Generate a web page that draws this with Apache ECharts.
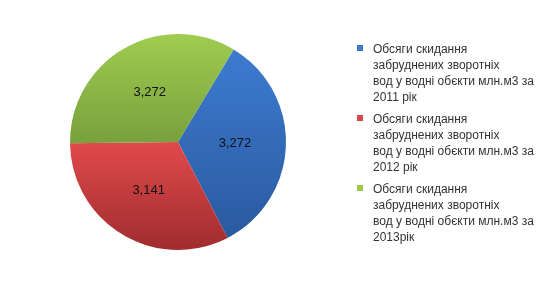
<!DOCTYPE html>
<html><head><meta charset="utf-8">
<script src="https://cdn.jsdelivr.net/npm/echarts@6/dist/echarts.min.js"></script>
<style>html,body{margin:0;padding:0;background:#fff}#c{width:552px;height:290px}</style>
</head><body><div id="c"></div>
<script>
var categories = [
  "Обсяги скидання\nзабруднених зворотніх\nвод у водні обєкти млн.м3 за\n2011 рік",
  "Обсяги скидання\nзабруднених зворотніх\nвод у водні обєкти млн.м3 за\n2012 рік",
  "Обсяги скидання\nзабруднених зворотніх\nвод у водні обєкти млн.м3 за\n2013рік"
];
var values = [3.272, 3.141, 3.272];
var colorsTop = ["#3d7bd0", "#e04a4c", "#a0cc50"];
var colorsBottom = ["#2a5aa0", "#a02c2e", "#78a03c"];

function grad(i){
  return new echarts.graphic.LinearGradient(0,0,0,1,[{offset:0,color:colorsTop[i]},{offset:1,color:colorsBottom[i]}]);
}
var chart = echarts.init(document.getElementById('c'));
chart.setOption({
  animation:false,
  legend:{
    orient:'vertical', left:352, top:37, itemWidth:6, itemHeight:64, itemGap:6,
    icon:'path://M0,3h6v6h-6z M0,64h0.001v0.001h-0.001z M0,0h0.001v0.001h-0.001z',
    textStyle:{fontFamily:'Liberation Sans', fontSize:12, color:'#333', lineHeight:16, padding:[0,0,0,5]},
    data: categories
  },
  series:[{
    type:'pie', center:[178,142], radius:108, startAngle:59, clockwise:true,
    label:{show:true, position:'inside', color:'#111', fontFamily:'Liberation Sans', fontSize:13,
      formatter:function(p){return p.value.toFixed(3).replace('.',',');}},
    labelLine:{show:false},
    itemStyle:{borderWidth:0},
    emphasis:{disabled:true},
    data: categories.map(function(c,i){return {name:c, value:values[i], itemStyle:{color:grad(i)}};})
  }]
});
</script></body></html>
